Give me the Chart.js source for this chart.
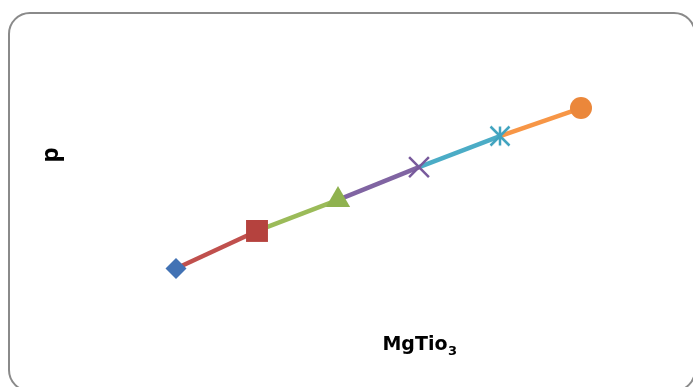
<!DOCTYPE html>
<html>
<head>
<meta charset="utf-8">
<script src="https://cdn.jsdelivr.net/npm/chart.js@4/dist/chart.umd.min.js"></script>
<style>
  html, body { margin: 0; padding: 0; background: #ffffff; overflow: hidden; }
  #wrap { position: relative; width: 693px; height: 387px; overflow: hidden; }
  #frame {
    position: absolute; left: 8px; top: 12px; width: 688px; height: 380px;
    box-sizing: border-box; border: 2px solid #8a8a8a; border-radius: 22px;
  }
  #chart { position: absolute; left: 0; top: 0; }
</style>
</head>
<body>
<div id="wrap">
  <div id="frame"></div>
  <canvas id="chart" width="693" height="387"></canvas>
</div>
<script>
// Sample positions and measured p for each MgTiO3 sample
const samples = [1, 2, 3, 4, 5, 6];
const pValues = [1.84, 3.18, 4.29, 5.46, 6.57, 7.57];

// Series colours and marker shapes, one per sample
const seriesColors = ['#4F81BD', '#C0504D', '#9BBB59', '#8064A2', '#4BACC6', '#F79646'];
const markerColors = ['#4272B4', '#B5423E', '#8FB24F', '#785A9C', '#40A3BF', '#EB873A'];

// Axis titles
const yTitle = 'p';
const xTitleMain = 'MgTio';
const xTitleSub = '3';

// Asterisk marker (vertical bar plus an X), built as a small canvas
function asteriskMarker(color, half, width) {
  const c = document.createElement('canvas');
  const size = Math.ceil(half * 2 + width * 2);
  c.width = size; c.height = size;
  const g = c.getContext('2d');
  const m = size / 2;
  g.strokeStyle = color;
  g.lineWidth = width;
  g.lineCap = 'butt';
  g.beginPath();
  g.moveTo(m, m - half); g.lineTo(m, m + half);
  g.moveTo(m - half, m - half); g.lineTo(m + half, m + half);
  g.moveTo(m + half, m - half); g.lineTo(m - half, m + half);
  g.stroke();
  return c;
}

const markerStyles = ['rectRot', 'rect', 'triangle', 'crossRot', asteriskMarker(markerColors[4], 9.5, 2.5), 'circle'];
const markerRadii = [10.5, 15.5, 14, 14, 10, 11];
const markerBorders = [0, 0, 0, 2.5, 0, 0];

const points = samples.map((x, i) => ({ x: x, y: pValues[i] }));

// Each connecting segment takes the colour of the sample it leads to
const segmentSets = [];
for (let i = 1; i < points.length; i++) {
  segmentSets.push({
    data: [points[i - 1], points[i]],
    borderColor: seriesColors[i],
    borderWidth: 4.5,
    pointRadius: 0,
    fill: false,
    tension: 0,
    order: 1
  });
}

const markerSet = {
  data: points,
  showLine: false,
  pointStyle: markerStyles,
  pointRadius: markerRadii,
  pointHoverRadius: markerRadii,
  pointBackgroundColor: markerColors,
  pointBorderColor: markerColors,
  pointBorderWidth: markerBorders,
  order: 0
};

// Axis titles drawn on the canvas
const titlesPlugin = {
  id: 'axisTitles',
  afterDraw(chart) {
    const ctx = chart.ctx;
    ctx.save();
    ctx.fillStyle = '#000000';

    // vertical title
    ctx.font = 'bold 24px "Open Sans"';
    ctx.textAlign = 'center';
    ctx.textBaseline = 'alphabetic';
    ctx.translate(58, 155);
    ctx.rotate(-Math.PI / 2);
    ctx.fillText(yTitle, 0, 0);
    ctx.setTransform(1, 0, 0, 1, 0, 0);

    // horizontal title with subscript
    const mainFont = 'bold 19px "DejaVu Sans"';
    const subFont = 'bold 13px "DejaVu Sans"';
    ctx.font = mainFont;
    const wMain = ctx.measureText(xTitleMain).width;
    ctx.font = subFont;
    const wSub = ctx.measureText(xTitleSub).width;
    const cx = (chart.chartArea.left + chart.chartArea.right) / 2 + 41;
    const left = cx - (wMain + wSub) / 2;
    ctx.textAlign = 'left';
    ctx.font = mainFont;
    ctx.fillText(xTitleMain, left, 350);
    ctx.font = subFont;
    ctx.fillText(xTitleSub, left + wMain + 0.5, 355);
    ctx.restore();
  }
};

new Chart(document.getElementById('chart'), {
  type: 'line',
  data: { datasets: [markerSet, ...segmentSets] },
  options: {
    responsive: false,
    devicePixelRatio: 1,
    animation: false,
    events: [],
    layout: { padding: { left: 95, right: 31, top: 40, bottom: 67 } },
    plugins: { legend: { display: false }, tooltip: { enabled: false } },
    scales: {
      x: { type: 'linear', min: 0, max: 7, display: false },
      y: { type: 'linear', min: 0, max: 10, display: false }
    }
  },
  plugins: [titlesPlugin]
});
</script>
</body>
</html>
